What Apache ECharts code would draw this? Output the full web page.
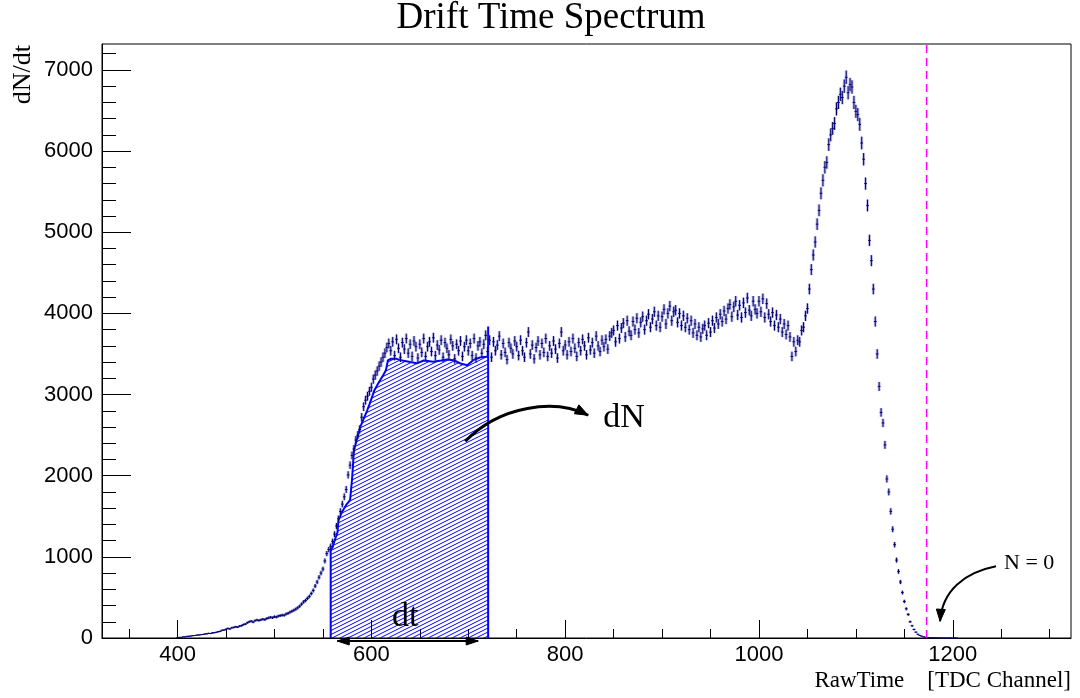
<!DOCTYPE html>
<html><head><meta charset="utf-8">
<script src="https://cdn.jsdelivr.net/npm/echarts@6/dist/echarts.min.js"></script>
<style>html,body{margin:0;padding:0;background:#fff}#c{width:1080px;height:698px}</style>
</head><body><div id="c"></div>
<script>
// ---- histogram: bin centres start at BIN_START, width BIN_WIDTH (TDC channels)
const BIN_START = 400, BIN_WIDTH = 2;
const counts400  = [5, 8, 9, 14, 15, 21, 22, 25, 29, 31, 36, 37, 41, 43, 49, 51, 57, 55, 63, 66, 70, 78, 82, 95, 98];
const counts450  = [108, 118, 112, 126, 130, 138, 134, 146, 152, 165, 172, 188, 200, 208, 196, 214, 222, 216, 224, 232, 226, 240, 248, 256, 250];
const counts500  = [262, 258, 270, 276, 282, 280, 296, 304, 318, 330, 342, 356, 372, 392, 418, 444, 462, 488, 512, 548, 586, 640, 690, 748, 800];
const counts550  = [850, 950, 1040, 1090, 1130, 1190, 1280, 1380, 1470, 1560, 1650, 1740, 1830, 2010, 2130, 2250, 2330, 2440, 2500, 2570, 2720, 2850, 2930, 2980, 3040];
const counts600  = [3090, 3190, 3240, 3290, 3350, 3400, 3460, 3510, 3580, 3630, 3540, 3650, 3480, 3680, 3570, 3460, 3640, 3560, 3690, 3510, 3620, 3470, 3660, 3590, 3450];
const counts650  = [3620, 3520, 3690, 3470, 3590, 3650, 3530, 3700, 3480, 3610, 3550, 3670, 3460, 3640, 3570, 3490, 3680, 3600, 3440, 3620, 3540, 3660, 3470, 3590, 3670];
const counts700  = [3540, 3630, 3480, 3690, 3450, 3600, 3650, 3510, 3620, 3730, 3530, 3670, 3460, 3650, 3540, 3610, 3720, 3490, 3630, 3520, 3430, 3640, 3570, 3500, 3660];
const counts750  = [3590, 3480, 3670, 3540, 3460, 3640, 3770, 3500, 3610, 3440, 3580, 3660, 3490, 3630, 3520, 3690, 3470, 3600, 3510, 3660, 3560, 3450, 3630, 3770, 3540];
const counts800  = [3610, 3490, 3650, 3530, 3690, 3570, 3470, 3640, 3540, 3680, 3600, 3490, 3700, 3550, 3640, 3510, 3720, 3600, 3530, 3670, 3590, 3680, 3560, 3720, 3760];
const counts850  = [3790, 3650, 3850, 3690, 3820, 3880, 3710, 3910, 3780, 3730, 3900, 3800, 3940, 3760, 3890, 3960, 3800, 3910, 3990, 3830, 3930, 4020, 3850, 3970, 3830];
const counts900  = [3960, 4050, 3870, 4000, 4090, 3910, 4020, 4040, 3890, 4000, 3850, 3970, 3830, 3940, 3800, 3910, 3760, 3870, 3730, 3830, 3710, 3810, 3850, 3730, 3880];
const counts950  = [3770, 3910, 3820, 3950, 3870, 3990, 3900, 4030, 3930, 4060, 4110, 3960, 4080, 4150, 3980, 4100, 3950, 4130, 4010, 4190, 4040, 3970, 4150, 4050, 4000];
const counts1000 = [4150, 4020, 4180, 3950, 4120, 3990, 3900, 4010, 3850, 3980, 3830, 3930, 3770, 3870, 3740, 3850, 3710, 3470, 3650, 3530, 3670, 3650, 3790, 3830, 3970];
const counts1050 = [4060, 4300, 4540, 4720, 4880, 5100, 5270, 5480, 5640, 5800, 5860, 6080, 6200, 6280, 6340, 6520, 6600, 6700, 6660, 6800, 6910, 6720, 6820, 6790, 6600];
const counts1100 = [6490, 6450, 6330, 6100, 5900, 5600, 5330, 4900, 4650, 4300, 3900, 3500, 3100, 2780, 2650, 2380, 1960, 1800, 1560, 1340, 1150, 960, 820, 690, 560];
const counts1150 = [450, 360, 290, 200, 150, 105, 72, 46, 32, 22, 14, 9, 6, 4, 3, 2, 2, 1, 1, 1, 0, 1, 0, 1, 0];
const counts1200 = [0, 1, 0];

// ---- hatched dN region (smoothed outline)
const hatchX = [558, 558, 560, 562, 564, 565, 566, 570, 574, 578, 580, 582, 585, 588.5, 592, 595.5, 598, 600, 601, 603, 607, 612, 615, 616, 617, 620, 626, 632, 640, 647, 654, 664, 672, 678, 685, 692, 699, 705, 712, 718, 720.5, 720.5, 720.5];
const hatchY = [0, 1080, 1120, 1200, 1190, 1300, 1450, 1560, 1640, 1700, 1950, 2310, 2450, 2600, 2700, 2800, 2880, 2900, 2980, 3050, 3135, 3235, 3300, 3360, 3420, 3440, 3440, 3420, 3400, 3385, 3420, 3405, 3420, 3433, 3424, 3383, 3362, 3424, 3457, 3465, 3470, 3840, 0];

// ---- cut line (N = 0)
const cutX = 1173;

// ---- axes
const xRange = [322, 1322];
const yRange = [0, 7320];
const xMajorTicks = [400, 600, 800, 1000, 1200];
const xMinorTicks = [350, 450, 500, 550, 650, 700, 750, 850, 900, 950, 1050, 1100, 1150, 1250, 1300];
const yMajorTicks = [0, 1000, 2000, 3000, 4000, 5000, 6000, 7000];
const yMinorTicks = [200, 400, 600, 800, 1200, 1400, 1600, 1800, 2200, 2400, 2600, 2800, 3200, 3400, 3600, 3800, 4200, 4400, 4600, 4800, 5200, 5400, 5600, 5800, 6200, 6400, 6600, 6800, 7200];

const counts = [].concat(counts400, counts450, counts500, counts550, counts600, counts650, counts700, counts750,
  counts800, counts850, counts900, counts950, counts1000, counts1050, counts1100, counts1150, counts1200);
const histData = counts.map((v, i) => [BIN_START + i * BIN_WIDTH, v]);
const hatchData = hatchX.map((x, i) => [x, hatchY[i]]);

// hatch pattern
const pc = document.createElement('canvas');
pc.width = 8; pc.height = 4;
(function () {
  const g = pc.getContext('2d');
  g.strokeStyle = '#0000ff'; g.lineWidth = 1;
  for (const off of [-4, 0, 4]) {
    g.beginPath(); g.moveTo(-8, 8 + off); g.lineTo(16, -4 + off); g.stroke();
  }
})();

const serif = '"Liberation Serif", "Times New Roman", serif';
const sans = '"Liberation Sans", Arial, sans-serif';
const chart = echarts.init(document.getElementById('c'), null, {renderer: 'canvas'});

const gridRect = {left: 102, right: 9, top: 44, bottom: 60};
chart.setOption({
  animation: false,
  backgroundColor: '#fff',
  grid: [
    Object.assign({show: true, borderColor: '#000', borderWidth: 1, backgroundColor: 'transparent'}, gridRect),
    Object.assign({show: false}, gridRect)
  ],
  xAxis: [{
    type: 'value', gridIndex: 0, min: xRange[0], max: xRange[1], position: 'bottom',
    axisLine: {show: true, lineStyle: {color: '#000', width: 1}},
    axisTick: {show: true, inside: true, length: 18, customValues: xMajorTicks, lineStyle: {color: '#000'}},
    axisLabel: {show: true, customValues: xMajorTicks, fontSize: 22, fontFamily: sans, color: '#000', margin: 6,
      formatter: v => String(v)},
    splitLine: {show: false}
  }, {
    type: 'value', gridIndex: 1, min: xRange[0], max: xRange[1], position: 'bottom',
    axisLine: {show: false},
    axisTick: {show: true, inside: true, length: 9, customValues: xMinorTicks, lineStyle: {color: '#000'}},
    axisLabel: {show: false}, splitLine: {show: false}
  }],
  yAxis: [{
    type: 'value', gridIndex: 0, min: yRange[0], max: yRange[1], position: 'left',
    axisLine: {show: true, lineStyle: {color: '#000', width: 1}},
    axisTick: {show: true, inside: true, length: 29, customValues: yMajorTicks, lineStyle: {color: '#000'}},
    axisLabel: {show: true, customValues: yMajorTicks, fontSize: 22, fontFamily: sans, color: '#000', margin: 9,
      formatter: v => String(v)},
    splitLine: {show: false}
  }, {
    type: 'value', gridIndex: 1, min: yRange[0], max: yRange[1], position: 'left',
    axisLine: {show: false},
    axisTick: {show: true, inside: true, length: 14, customValues: yMinorTicks, lineStyle: {color: '#000'}},
    axisLabel: {show: false}, splitLine: {show: false}
  }],
  series: [{
    type: 'line', xAxisIndex: 0, yAxisIndex: 0, data: hatchData, symbol: 'none', smooth: false,
    lineStyle: {color: '#0000ff', width: 2},
    areaStyle: {color: {image: pc, repeat: 'repeat'}, opacity: 1},
    z: 2
  }, {
    type: 'custom', xAxisIndex: 0, yAxisIndex: 0, data: histData, z: 3,
    renderItem: function (params, api) {
      const x = api.value(0), y = api.value(1);
      const e = Math.sqrt(y);
      const t = api.coord([x, y + e]), b = api.coord([x, y - e]);
      const l = api.coord([x - BIN_WIDTH * 0.7, y]), r = api.coord([x + BIN_WIDTH * 0.7, y]);
      const halo = {stroke: 'rgba(70,70,180,0.35)', lineWidth: 3};
      const core = {stroke: '#000070', lineWidth: 1};
      return {type: 'group', children: [
        {type: 'line', shape: {x1: t[0], y1: t[1], x2: b[0], y2: b[1]}, style: halo},
        {type: 'line', shape: {x1: t[0], y1: t[1], x2: b[0], y2: b[1]}, style: core},
        {type: 'line', shape: {x1: l[0], y1: l[1], x2: r[0], y2: r[1]}, style: core}
      ]};
    }
  }, {
    type: 'line', xAxisIndex: 0, yAxisIndex: 0, data: [[cutX, yRange[0]], [cutX, yRange[1]]], symbol: 'none',
    lineStyle: {color: '#ff00ff', width: 1.5, type: [8, 5]}, z: 4
  }]
});

// ---- annotations (placed in data coordinates, converted through the axes)
function P(p) { return chart.convertToPixel({gridIndex: 0}, p); }
function head(tip, from, len, hw) {
  const dx = tip[0] - from[0], dy = tip[1] - from[1];
  const L = Math.hypot(dx, dy), ux = dx / L, uy = dy / L;
  const bx = tip[0] - ux * len, by = tip[1] - uy * len;
  return {type: 'polygon', z: 100, shape: {points: [tip, [bx - uy * hw, by + ux * hw], [bx + uy * hw, by - ux * hw]]},
    style: {fill: '#000', stroke: '#000', lineWidth: 1}};
}
function bez(a, c1, c2, b, w) {
  return {type: 'bezierCurve', z: 100, shape: {x1: a[0], y1: a[1], cpx1: c1[0], cpy1: c1[1], cpx2: c2[0], cpy2: c2[1], x2: b[0], y2: b[1]},
    style: {stroke: '#000', lineWidth: w, fill: null}};
}
const dN0 = P([696.8, 2424]), dN1 = P([732.9, 2868]), dN2 = P([789.7, 2954]), dN3 = P([823.7, 2745]);
const n0 = P([1244.6, 884]), n1 = P([1212.7, 810]), n2 = P([1188.9, 588]), n3 = P([1186.9, 206]);
const dtA = P([564.8, -37]), dtB = P([710.2, -37]);
const dNText = P([839.2, 2708]), dtText = P([634.9, 255]), nText = P([1252.9, 921]);

chart.setOption({
  graphic: [
    {type: 'text', x: 551, y: 18, z: 100, style: {text: 'Drift Time Spectrum', font: '37px ' + serif, fill: '#000', align: 'center', verticalAlign: 'middle'}},
    {type: 'text', x: 23, y: 45, rotation: Math.PI / 2, z: 100, style: {text: 'dN/dt', font: '26px ' + serif, fill: '#000', align: 'right', verticalAlign: 'middle'}},
    {type: 'text', x: 1071, y: 681, z: 100, style: {text: 'RawTime    [TDC Channel]', font: '23px ' + serif, fill: '#000', align: 'right', verticalAlign: 'middle'}},
    bez(dN0, dN1, dN2, dN3, 3), head(dN3, dN2, 13, 5),
    {type: 'text', x: dNText[0], y: dNText[1], z: 100, style: {text: 'dN', font: '34px ' + serif, fill: '#000', align: 'left', verticalAlign: 'middle'}},
    bez(n0, n1, n2, n3, 2), head(n3, n2, 12, 4.5),
    {type: 'text', x: nText[0], y: nText[1], z: 100, style: {text: 'N = 0', font: '22px ' + serif, fill: '#000', align: 'left', verticalAlign: 'middle'}},
    {type: 'line', z: 100, shape: {x1: dtA[0], y1: dtA[1], x2: dtB[0], y2: dtB[1]}, style: {stroke: '#000', lineWidth: 2}},
    head(dtA, dtB, 12, 4), head(dtB, dtA, 12, 4),
    {type: 'text', x: dtText[0], y: dtText[1], z: 100, style: {text: 'dt', font: '34px ' + serif, fill: '#000', align: 'center', verticalAlign: 'middle'}}
  ]
});
</script>
</body></html>
